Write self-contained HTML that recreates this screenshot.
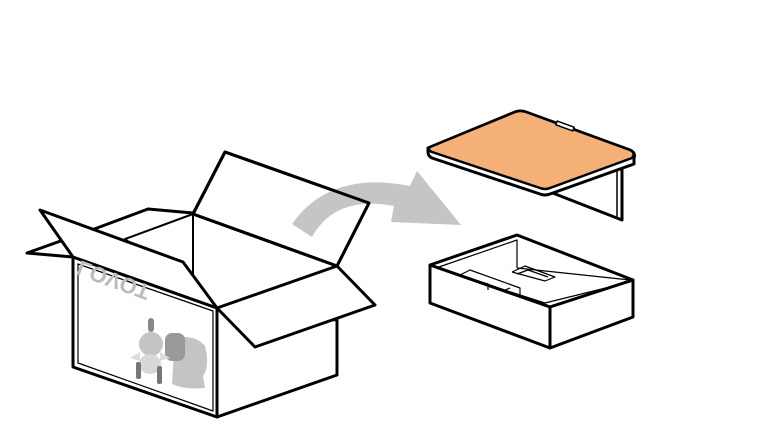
<!DOCTYPE html>
<html><head><style>body{margin:0;background:#fff}svg{display:block}</style></head>
<body>
<svg width="768" height="433" viewBox="0 0 768 433" xmlns="http://www.w3.org/2000/svg">
<g stroke="#000" stroke-linejoin="round" fill="#fff">
<polygon points="27,253 97,228 73,257" stroke-width="3"/>
<polyline points="97,228 148,209 193,213" fill="none" stroke-width="3"/>
<polygon points="125,239 193,214 337,266 217,308" stroke-width="2"/>
<line x1="193" y1="214" x2="193" y2="275" stroke-width="2"/>
<polygon points="193,214 225,152 369,203 337,266" stroke-width="3"/>
<polygon points="217,308 337,320 337,375 217,417" stroke-width="3"/>
<polygon points="73,257 217,308 217,417 73,367" stroke-width="3"/>
<polygon points="78,264 213,311 213,411 78,363" stroke-width="1.2" fill="none"/>
<polygon points="217,308 337,266 375,305 255,347" stroke-width="3"/>
<polygon points="40,210 183,262 217,308 73,257" stroke-width="3"/>
</g>
<!-- logo & robot -->
<text x="0" y="0" transform="translate(116,273) rotate(20) scale(1,-1)" font-family="Liberation Sans, sans-serif" font-weight="bold" font-size="22" fill="#bbb" text-anchor="middle">LOVOT</text>
<g>
<path d="M175,338 q20,-4 30,8 q5,20 -2,30 l2,12 q-20,2 -33,-4 z" fill="#c4c4c4"/>
<rect x="165" y="333" width="20" height="28" rx="7" fill="#999"/>
<rect x="148" y="318" width="6" height="14" rx="3" fill="#888"/>
<path d="M140,352 l-10,6 l10,3 z" fill="#ddd"/>
<path d="M160,352 l10,6 l-10,3 z" fill="#ddd"/>
<circle cx="151" cy="344" r="12" fill="#c4c4c4"/>
<ellipse cx="150" cy="364" rx="11" ry="10" fill="#d8d8d8"/>
<rect x="136" y="362" width="5" height="17" rx="2" fill="#777"/>
<rect x="157" y="366" width="5" height="18" rx="2" fill="#777"/>
</g>
<!-- arrow -->
<path d="M292,224 Q330,170 410,186 L417,171 L461,225 L391,222 L394,206 Q335,195 312,237 Z" fill="#c4c5c4"/>
<g stroke="#000" stroke-width="3" fill="none" stroke-linejoin="round">
<polygon points="193,214 225,152 369,203 337,266"/>
</g>
<!-- lid -->
<g stroke="#000" stroke-width="3" stroke-linejoin="round">
<polygon points="545,190 622,220 622,165 545,186" fill="#fff"/>
<line x1="617" y1="168" x2="617" y2="218" stroke-width="1.5"/>
<path d="M428,148 L515,112 Q520,110 526,112 L630,150 Q636,153 634,158 L634,164 L550,194 Q545,196 540,194 L432,158 Q428,156 428,152 Z" fill="#fff"/>
<path d="M430,147 L515,112 Q520,110 526,112 L630,150 Q636,153 632,158 L550,188 Q545,190 540,188 L432,152 Q427,150 430,147 Z" fill="#f5b078" stroke-width="2.5"/>
<rect x="556" y="124" width="18" height="4" transform="rotate(20 565 126)" fill="#fff" stroke-width="1.5"/>
</g>
<!-- tray -->
<g stroke="#000" stroke-linejoin="round" fill="#fff">
<polygon points="430,265 517,235 633,280 550,307" stroke-width="3"/>
<polygon points="430,265 550,307 550,348 430,303" stroke-width="3"/>
<polygon points="550,307 633,280 633,317 550,348" stroke-width="3"/>
<g fill="none" stroke-width="1.2">
<polyline points="436,268 517,240 517,268"/>
<polyline points="517,268 630,280"/>
<polyline points="436,268 545,303 630,282"/>
<polyline points="460,275 470,270 520,288 520,298"/>
<polyline points="478,281 488,284 488,290"/>
<polyline points="505,290 510,288"/>
<polyline points="512,272 525,266 555,277 545,281 512,272"/>
<polyline points="517,274 528,270 548,277"/>
</g>
</g>
</svg>
</body></html>
